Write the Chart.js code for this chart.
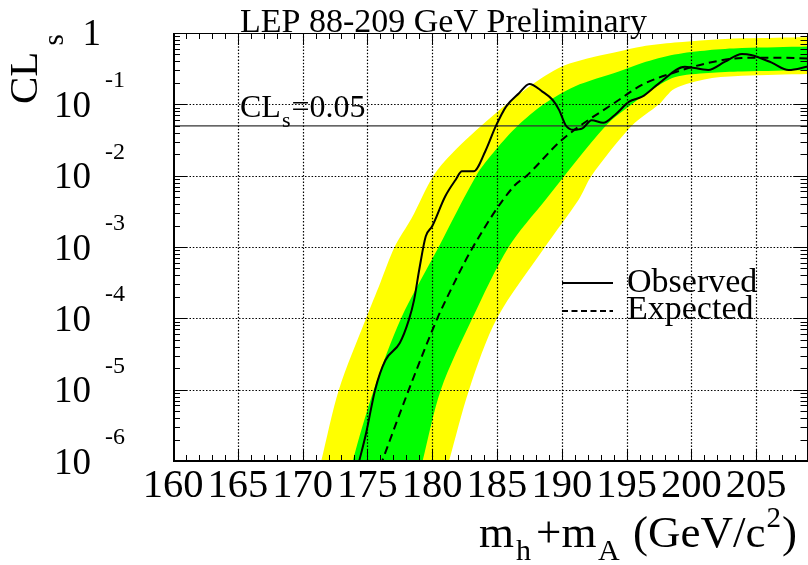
<!DOCTYPE html>
<html>
<head>
<meta charset="utf-8">
<script src="https://cdn.jsdelivr.net/npm/chart.js@4.4.1/dist/chart.umd.min.js"></script>
<style>
  html, body { margin: 0; padding: 0; background: #ffffff; }
  #wrap { width: 808px; height: 565px; position: relative; }
</style>
</head>
<body>
<div id="wrap"><canvas id="c" width="808" height="565"></canvas></div>
<script>
// ---- data: CLs versus mh+mA (GeV/c^2) ----
const obsMass = [174.3, 174.9, 175.6, 176.4, 177.5, 178.2, 178.6, 179.0, 179.5, 180.0, 181.0, 181.8, 182.3, 183.2, 184.1, 184.9, 185.7, 186.7, 187.5, 188.5, 189.3, 189.8, 190.3, 190.9, 191.6, 192.3, 193.2, 194.1, 195.2, 196.2, 197.5, 199.5, 201.3, 202.6, 203.9, 204.6, 206.2, 207.5, 209.0];
const obsCLs  = [8.9e-7, 2.45e-6, 1.0e-5, 2.6e-5, 4.5e-5, 9.5e-5, 1.8e-4, 4.8e-4, 1.4e-3, 1.95e-3, 5.1e-3, 8.7e-3, 0.0115, 0.0115, 0.022, 0.049, 0.093, 0.143, 0.193, 0.151, 0.115, 0.083, 0.051, 0.044, 0.046, 0.060, 0.055, 0.071, 0.109, 0.128, 0.197, 0.337, 0.303, 0.396, 0.508, 0.492, 0.384, 0.303, 0.339];

const expMass = [176.0, 178.2, 180.4, 181.05, 183.15, 186.3, 187.3, 190.0, 194.4, 196.15, 198.8, 201.3, 203.9, 206.5, 209.0];
const expCLs  = [8.5e-7, 1.0e-5, 1.0e-4, 1.8e-4, 1.0e-3, 7.1e-3, 0.010, 0.0316, 0.115, 0.186, 0.284, 0.380, 0.447, 0.450, 0.440];

// +2 sigma / -2 sigma band edges
const up2Mass = [170.1, 171.44, 172.8, 174.9, 176.0, 177.1, 178.4, 180.1, 181.9, 184.9, 187.5, 190.0, 192.6, 194.4, 196.2, 198.7, 201.3, 203.9, 206.5, 209.0, 210.0];
const up2CLs  = [1e-7, 1e-6, 1e-5, 1e-4, 3.16e-4, 1e-3, 2.5e-3, 0.010, 0.024, 0.075, 0.178, 0.339, 0.468, 0.550, 0.646, 0.733, 0.798, 0.841, 0.861, 0.871, 0.873];
const dn2Mass = [179.75, 181.3, 182.85, 185.0, 188.7, 191.3, 192.3, 195.4, 197.5, 198.7, 201.3, 203.9, 206.5, 209.0, 210.0];
const dn2CLs  = [1e-7, 1e-6, 1e-5, 1e-4, 1e-3, 4.6e-3, 0.010, 0.050, 0.100, 0.166, 0.229, 0.251, 0.260, 0.266, 0.268];

// +1 sigma / -1 sigma band edges
const up1Mass = [172.6, 173.87, 175.5, 177.6, 180.5, 183.4, 184.9, 186.6, 188.6, 191.0, 194.4, 196.2, 198.7, 201.3, 203.9, 206.5, 209.0, 210.0];
const up1CLs  = [1e-7, 1e-6, 1e-5, 1e-4, 1e-3, 0.010, 0.023, 0.050, 0.100, 0.178, 0.288, 0.380, 0.500, 0.575, 0.617, 0.631, 0.646, 0.648];
const dn1Mass = [177.9, 179.26, 180.67, 183.1, 185.9, 188.75, 193.4, 195.4, 196.9, 198.7, 201.3, 203.9, 206.5, 209.0, 210.0];
const dn1CLs  = [1e-7, 1e-6, 1e-5, 1e-4, 1e-3, 4.6e-3, 0.050, 0.100, 0.158, 0.240, 0.275, 0.288, 0.295, 0.302, 0.303];

const limitLevel = 0.05;
const xTickValues = [160, 165, 170, 175, 180, 185, 190, 195, 200, 205];
const yDecadeExps = [0, -1, -2, -3, -4, -5, -6];
const legendNames = ['Observed', 'Expected'];
const plotTitle = 'LEP 88-209 GeV Preliminary';

// ---- helpers ----
const pts = (xs, ys) => xs.map((v, i) => ({ x: v, y: ys[i] }));
const bandShape = (upX, upY, dnX, dnY) => pts(upX, upY).concat(pts(dnX, dnY).reverse());

const SERIF = '"Liberation Serif", "Times New Roman", serif';
const font = (px) => px + 'px ' + SERIF;

function hline(ctx, x0, x1, y) { ctx.beginPath(); ctx.moveTo(x0, y); ctx.lineTo(x1, y); ctx.stroke(); }
function vline(ctx, x, y0, y1) { ctx.beginPath(); ctx.moveTo(x, y0); ctx.lineTo(x, y1); ctx.stroke(); }

// grid, frame, ticks, labels in a ROOT-like style
const rootFrame = {
  id: 'rootFrame',
  afterDatasetsDraw(chart) {
    const { ctx, chartArea: a, scales: { x, y } } = chart;
    const L = a.left, R = a.right - 0.5, T = a.top, B = a.bottom;
    ctx.save();
    ctx.strokeStyle = '#000';
    ctx.fillStyle = '#000';

    // dotted grid at major ticks
    ctx.lineWidth = 1.2;
    ctx.setLineDash([1.5, 1.8]);
    xTickValues.forEach(v => {
      if (v <= x.min) return;
      const px = Math.round(x.getPixelForValue(v)) + 0.5;
      vline(ctx, px, T, B);
    });
    yDecadeExps.forEach(e => {
      const v = Math.pow(10, e);
      if (v >= y.max || v <= y.min) return;
      const py = Math.round(y.getPixelForValue(v)) + 0.5;
      hline(ctx, L, R, py);
    });
    ctx.setLineDash([]);

    // frame
    ctx.lineWidth = 1;
    ctx.strokeRect(L + 0.5, T + 0.5, R - L - 0.5, B - T);
    ctx.lineWidth = 2;
    vline(ctx, L + 1, T, B + 1);
    hline(ctx, L, R, B);

    // x ticks (bottom and top), every 1 GeV, longer at each 5 GeV
    ctx.lineWidth = 1;
    for (let m = Math.ceil(x.min); m <= x.max; m++) {
      const px = Math.round(x.getPixelForValue(m)) + 0.5;
      const len = (m % 5 === 0) ? 12 : 6;
      vline(ctx, px, B, B - len);
      vline(ctx, px, T, T + len);
    }
    // y ticks (left and right), log minors
    for (let e = -6; e <= 0; e++) {
      for (let k = 1; k <= 9; k++) {
        const v = k * Math.pow(10, e);
        if (v < y.min || v > y.max) continue;
        const py = Math.round(y.getPixelForValue(v)) + 0.5;
        const len = (k === 1) ? 14 : 7;
        hline(ctx, L, L + len, py);
        hline(ctx, R, R - len, py);
      }
    }

    // x tick labels
    ctx.font = font(40.5);
    ctx.textAlign = 'center';
    ctx.textBaseline = 'alphabetic';
    xTickValues.forEach(v => {
      ctx.fillText(String(v), x.getPixelForValue(v), 497);
    });

    // y tick labels: 1, 10^-1 ... 10^-6
    yDecadeExps.forEach(e => {
      const py = y.getPixelForValue(Math.pow(10, e));
      ctx.font = font(37);
      ctx.textAlign = 'right';
      if (e === 0) {
        ctx.fillText('1', 101, py + 12);
      } else {
        ctx.fillText('10', 91, py + 12.5);
        ctx.font = font(24);
        ctx.textAlign = 'left';
        ctx.fillText(String(e), 105, py - 17);
      }
    });
    ctx.restore();
  },
  afterDraw(chart) {
    const { ctx } = chart;
    ctx.save();
    ctx.fillStyle = '#000';
    ctx.strokeStyle = '#000';
    ctx.textBaseline = 'alphabetic';
    ctx.textAlign = 'left';

    // title
    ctx.font = font(34);
    ctx.fillText(plotTitle, 240, 32);

    // limit label CL_s=0.05
    let cx = 240;
    ctx.font = font(32);
    ctx.fillText('CL', cx, 117);
    cx += ctx.measureText('CL').width + 1;
    ctx.font = font(22);
    ctx.fillText('s', cx, 127);
    cx += ctx.measureText('s').width + 1;
    ctx.font = font(32);
    ctx.fillText('=0.05', cx, 117);

    // y axis title, rotated
    ctx.save();
    ctx.translate(37, 104);
    ctx.rotate(-Math.PI / 2);
    ctx.font = font(41);
    ctx.fillText('CL', 0, 0);
    const w = ctx.measureText('CL').width;
    ctx.font = font(29);
    ctx.fillText('s', w + 6, 26);
    ctx.restore();

    // x axis title m_h+m_A (GeV/c^2)
    const base = 547;
    ctx.font = font(45); ctx.fillText('m', 479, base);
    ctx.font = font(30); ctx.fillText('h', 516, base + 13);
    ctx.font = font(45); ctx.fillText('+m', 536, base);
    ctx.font = font(30); ctx.fillText('A', 598, base + 13);
    ctx.font = font(45);
    const gx = 633;
    ctx.fillText('(GeV/c', gx, base);
    let ex = gx + ctx.measureText('(GeV/c').width + 1;
    ctx.font = font(29); ctx.fillText('2', ex, base - 20);
    ex += ctx.measureText('2').width + 1;
    ctx.font = font(45); ctx.fillText(')', ex, base);

    // legend
    ctx.lineWidth = 2;
    hline(ctx, 562, 613, 283);
    ctx.setLineDash([6, 3.5]);
    hline(ctx, 562, 613, 311);
    ctx.setLineDash([]);
    ctx.font = font(34);
    ctx.fillText(legendNames[0], 627, 292);
    ctx.fillText(legendNames[1], 627, 319);
    ctx.restore();
  }
};

new Chart(document.getElementById('c'), {
  type: 'scatter',
  data: {
    datasets: [
      { label: '+-2 sigma', data: bandShape(up2Mass, up2CLs, dn2Mass, dn2CLs), showLine: true, fill: 'shape',
        backgroundColor: '#ffff00', borderWidth: 0, pointRadius: 0, tension: 0.3, order: 6 },
      { label: '+-1 sigma', data: bandShape(up1Mass, up1CLs, dn1Mass, dn1CLs), showLine: true, fill: 'shape',
        backgroundColor: '#00ff00', borderWidth: 0, pointRadius: 0, tension: 0.3, order: 5 },
      { label: 'CLs=0.05', data: [{ x: 160, y: limitLevel }, { x: 209, y: limitLevel }], showLine: true,
        borderColor: '#333333', borderWidth: 1.2, pointRadius: 0, order: 4 },
      { label: legendNames[1], data: pts(expMass, expCLs), showLine: true, borderColor: '#000', borderWidth: 2,
        borderDash: [8, 5], pointRadius: 0, cubicInterpolationMode: 'monotone', order: 3 },
      { label: legendNames[0], data: pts(obsMass, obsCLs), showLine: true, borderColor: '#000', borderWidth: 2,
        pointRadius: 0, cubicInterpolationMode: 'monotone', order: 2 }
    ]
  },
  options: {
    responsive: false,
    animation: false,
    devicePixelRatio: 1,
    layout: { padding: { left: 173, top: 33, right: 0, bottom: 104 } },
    plugins: { legend: { display: false }, tooltip: { enabled: false }, title: { display: false } },
    scales: {
      x: { type: 'linear', min: 160, max: 209, display: false },
      y: { type: 'logarithmic', min: 1e-6, max: 1, display: false }
    }
  },
  plugins: [rootFrame]
});
</script>
</body>
</html>
